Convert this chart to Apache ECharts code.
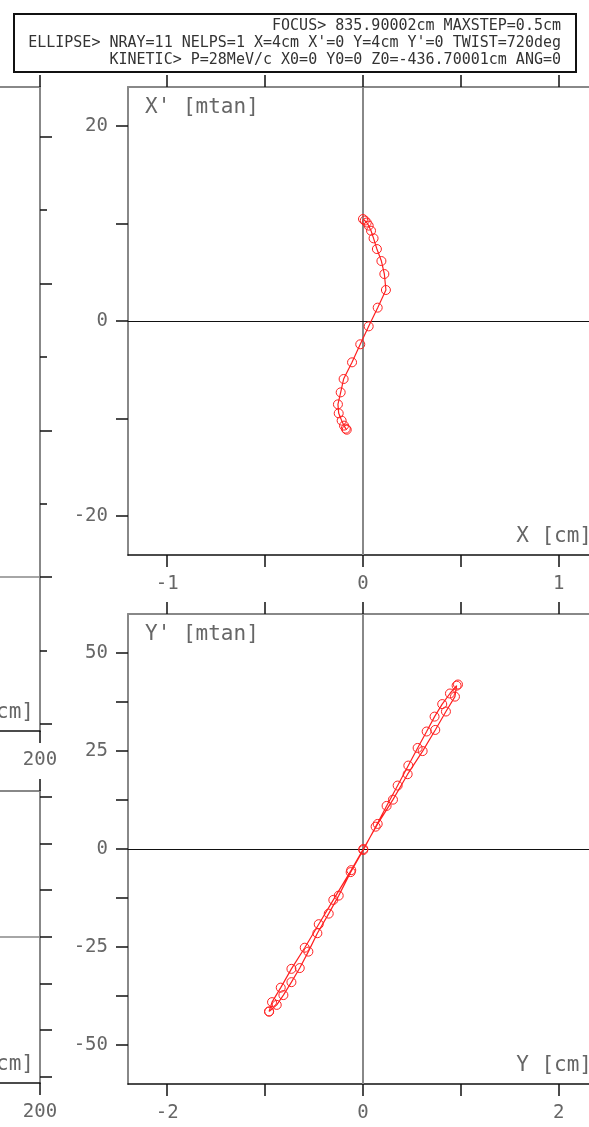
<!DOCTYPE html>
<html>
<head>
<meta charset="utf-8">
<script src="https://cdn.jsdelivr.net/npm/echarts@6/dist/echarts.min.js"></script>
<style>html,body{margin:0;padding:0;background:#fff}#main{width:589px;height:1127px}</style>
</head>
<body>
<div id="main"></div>
<script>
// header text
var headerLines=[
  "FOCUS> 835.90002cm MAXSTEP=0.5cm",
  "ELLIPSE> NRAY=11 NELPS=1 X=4cm X'=0 Y=4cm Y'=0 TWIST=720deg",
  "KINETIC> P=28MeV/c X0=0 Y0=0 Z0=-436.70001cm ANG=0"
];

// X - X' track (cm, mrad)
var xPos=[0.000,0.009,0.019,0.029,0.041,0.054,0.071,0.094,0.109,0.117,0.075,0.029,-0.014,-0.056,-0.099,-0.114,-0.128,-0.124,-0.109,-0.097,-0.088,-0.083];
var xAng=[10.46,10.3,10.1,9.78,9.26,8.48,7.38,6.15,4.82,3.18,1.37,-0.55,-2.39,-4.24,-5.95,-7.32,-8.55,-9.47,-10.22,-10.73,-11.04,-11.15];

// Y - Y' track (cm, mrad)
var yPos=[-0.959,-0.881,-0.813,-0.731,-0.646,-0.558,-0.466,-0.350,-0.248,-0.126,0.003,0.129,0.241,0.354,0.463,0.558,0.650,0.731,0.809,0.888,0.956,0.970,0.939,0.847,0.738,0.609,0.456,0.306,0.150,0.003,-0.120,-0.303,-0.452,-0.595,-0.731,-0.840,-0.929,-0.959];
var yAng=[-41.5,-39.8,-37.3,-34.0,-30.4,-26.2,-21.5,-16.5,-11.9,-5.9,-0.26,5.7,11.0,16.2,21.3,25.8,30.0,33.8,37.0,39.7,41.7,42.0,38.9,35.1,30.4,25.0,19.1,12.6,6.4,0.0,-5.4,-13.0,-19.2,-25.2,-30.6,-35.4,-39.1,-41.5];

// ticks / labels
var topXTicks=[-1,-0.5,0,0.5,1], topXLabels=[-1,0,1];
var topYTicks=[-20,-10,0,10,20], topYLabels=[-20,0,20];
var botXTicks=[-2,-1,0,1,2], botXLabels=[-2,0,2];
var botYTicks=[-50,-37.5,-25,-12.5,0,12.5,25,37.5,50], botYLabels=[-50,-25,0,25,50];
var sideXTicks=[200], sideXLabels=[200];
var sideAMajor=[-2,0,2,4,6], sideAMinor=[-1,1,3,5];
var sideBTicks=[-3,-2,-1,0,1,2,3];
var zeroLine=[0];

var MONO='"DejaVu Sans Mono", "Liberation Mono", monospace';
var GRAY='#888', RED='#ff2020';

function xBottom(grid,min,max,ticks,labels,name){
  return {type:'value',gridIndex:grid,position:'bottom',min:min,max:max,
    axisLine:{show:true,onZero:false,lineStyle:{color:'#111',width:1.5}},
    axisTick:{show:true,length:12,customValues:ticks,lineStyle:{color:'#111',width:1.5}},
    axisLabel:{show:true,customValues:labels,margin:20,color:'#666',fontFamily:MONO,fontSize:19},
    splitLine:{show:false},
    name:name,nameLocation:'end',nameGap:-6,
    nameTextStyle:{color:'#666',fontFamily:MONO,fontSize:21,align:'right',verticalAlign:'bottom',padding:[0,0,8,0]}};
}
function xTop(grid,min,max,ticks){
  return {type:'value',gridIndex:grid,position:'top',min:min,max:max,
    axisLine:{show:true,onZero:false,lineStyle:{color:GRAY,width:2}},
    axisTick:{show:true,length:12,customValues:ticks,lineStyle:{color:'#111',width:1.5}},
    axisLabel:{show:false},splitLine:{show:false}};
}
function yLeft(grid,min,max,ticks,labels,name){
  return {type:'value',gridIndex:grid,position:'left',min:min,max:max,
    axisLine:{show:true,onZero:false,lineStyle:{color:GRAY,width:2}},
    axisTick:{show:true,length:12,customValues:ticks,lineStyle:{color:'#111',width:1.5}},
    axisLabel:{show:true,customValues:labels,margin:20,color:'#666',fontFamily:MONO,fontSize:19},
    splitLine:{show:false},
    name:name,nameLocation:'end',nameGap:-10,
    nameTextStyle:{color:'#666',fontFamily:MONO,fontSize:21,align:'left',verticalAlign:'top',padding:[0,0,0,17]}};
}
function yRight(grid,min,max,ticks,len){
  return {type:'value',gridIndex:grid,position:'right',min:min,max:max,
    axisLine:{show:true,onZero:false,lineStyle:{color:GRAY,width:2}},
    axisTick:{show:true,length:len,customValues:ticks,lineStyle:{color:'#111',width:1.5}},
    axisLabel:{show:false},splitLine:{show:false}};
}

var trackStyle={type:'line',symbol:'circle',symbolSize:9,
  itemStyle:{color:'rgba(0,0,0,0)',borderColor:RED,borderWidth:1},
  lineStyle:{color:RED,width:1.2},z:5};
var zeroMarks={silent:true,symbol:'none',label:{show:false},animation:false,
  data:[{xAxis:zeroLine[0],lineStyle:{color:GRAY,width:2,type:'solid'}},
        {yAxis:zeroLine[0],lineStyle:{color:'#111',width:1,type:'solid'}}]};
var sideMarks={silent:true,symbol:'none',label:{show:false},animation:false,
  data:[{yAxis:zeroLine[0],lineStyle:{color:GRAY,width:1.5,type:'solid'}}]};

function pairs(a,b){var r=[];for(var i=0;i<a.length;i++)r.push([a[i],b[i]]);return r;}

var myChart=echarts.init(document.getElementById('main'),null,{renderer:'canvas'});
var option={
  animation:false,
  backgroundColor:'#fff',
  grid:[
    {left:128,top:87,width:470,height:468,outerBoundsMode:'none',containLabel:false},
    {left:128,top:614,width:470,height:470,outerBoundsMode:'none',containLabel:false},
    {left:-360,top:87,width:400,height:644,outerBoundsMode:'none',containLabel:false},
    {left:-360,top:791,width:400,height:292,outerBoundsMode:'none',containLabel:false}
  ],
  xAxis:[
    xBottom(0,-1.2,1.2,topXTicks,topXLabels,'X [cm]'),
    xTop(0,-1.2,1.2,topXTicks),
    xBottom(1,-2.4,2.4,botXTicks,botXLabels,'Y [cm]'),
    xTop(1,-2.4,2.4,botXTicks),
    xBottom(2,0,200,sideXTicks,sideXLabels,'Z [cm]'),
    xTop(2,0,200,sideXTicks),
    xBottom(3,0,200,sideXTicks,sideXLabels,'Z [cm]'),
    xTop(3,0,200,sideXTicks)
  ],
  yAxis:[
    yLeft(0,-24,24,topYTicks,topYLabels,"X' [mtan]"),
    yLeft(1,-60,60,botYTicks,botYLabels,"Y' [mtan]"),
    yRight(2,-2.1,6.68,sideAMajor,12),
    yRight(2,-2.1,6.68,sideAMinor,7),
    yRight(3,-3.13,3.12,sideBTicks,12)
  ],
  series:[
    Object.assign({},trackStyle,{xAxisIndex:0,yAxisIndex:0,data:pairs(xPos,xAng),markLine:zeroMarks}),
    Object.assign({},trackStyle,{xAxisIndex:2,yAxisIndex:1,data:pairs(yPos,yAng),markLine:zeroMarks}),
    {type:'line',xAxisIndex:4,yAxisIndex:2,data:[],markLine:sideMarks},
    {type:'line',xAxisIndex:6,yAxisIndex:4,data:[],markLine:sideMarks}
  ],
  graphic:[
    {type:'rect',shape:{x:14,y:14,width:562,height:58},style:{fill:'#fff',stroke:'#111',lineWidth:2},z:100},
    {type:'text',style:{text:headerLines[0],x:561,y:26,textAlign:'right',textVerticalAlign:'middle',font:'15px '+MONO,fill:'#333'},z:101},
    {type:'text',style:{text:headerLines[1],x:561,y:43,textAlign:'right',textVerticalAlign:'middle',font:'15px '+MONO,fill:'#333'},z:101},
    {type:'text',style:{text:headerLines[2],x:561,y:60,textAlign:'right',textVerticalAlign:'middle',font:'15px '+MONO,fill:'#333'},z:101}
  ]
};

myChart.setOption(option);
</script>
</body>
</html>
